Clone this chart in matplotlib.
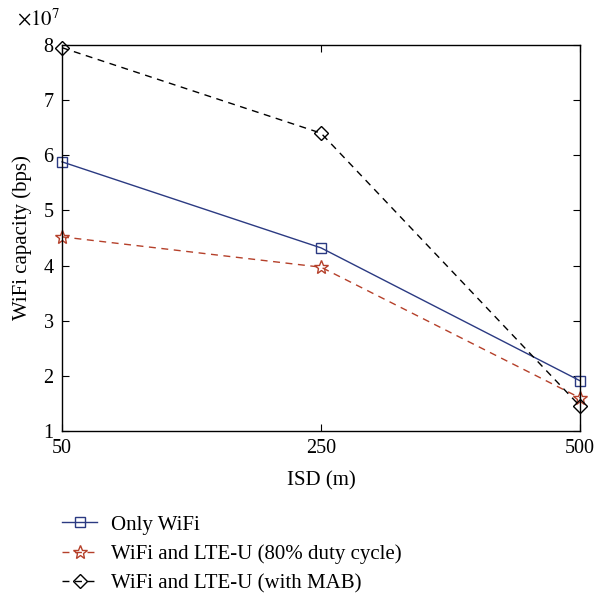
import matplotlib
matplotlib.use("Agg")
import matplotlib.pyplot as plt

plt.rcParams['font.family'] = ['Liberation Serif', 'DejaVu Serif']
plt.rcParams['mathtext.fontset'] = 'stix'

isd_labels = ["50", "250", "500"]
only_wifi = [5.88, 4.32, 1.91]
duty80 = [4.52, 3.97, 1.60]
mab = [7.95, 6.40, 1.45]

fig = plt.figure(figsize=(5.98, 5.99), dpi=100)
ax = fig.add_axes([0.1037, 0.2805, 0.8663, 0.6445])

x = list(range(len(isd_labels)))
ax.plot(x, only_wifi, color='#2b3a82', lw=1.0, marker='s', ms=7, mfc='none', mec='#2b3a82', mew=1.0,
        label='Only WiFi', clip_on=False)
ax.plot(x, duty80, color='#b5402a', lw=1.0, ls=(0, (5, 4)), marker='*', ms=10, mfc='none', mec='#b5402a', mew=1.0,
        label='WiFi and LTE-U (80% duty cycle)', clip_on=False)
ax.plot(x, mab, color='black', lw=1.0, ls=(0, (5, 4)), marker='D', ms=7, mfc='none', mec='black', mew=1.0,
        label='WiFi and LTE-U (with MAB)', clip_on=False)

ax.set_xlim(0, 2)
ax.set_ylim(1, 8)
ax.set_xticks(x)
ax.set_xticklabels(isd_labels)
ax.set_yticks(range(1, 9))
ax.tick_params(direction='in', top=True, right=True, labelsize=14.5, length=5, pad=6)
for s in ax.spines.values():
    s.set_linewidth(1.0)
ax.set_xlabel('ISD (m)', fontsize=15, labelpad=9)
ax.set_ylabel('WiFi capacity (bps)', fontsize=15, labelpad=8)
fig.text(0.028, 0.958, r'$\times10^{7}$', fontsize=15)

leg = ax.legend(loc='upper left', bbox_to_anchor=(0.0, -0.218), frameon=False, fontsize=15,
                handlelength=1.7, labelspacing=0.47, handletextpad=0.63, borderaxespad=0, borderpad=0)

fig.savefig('out.png', dpi=100)
